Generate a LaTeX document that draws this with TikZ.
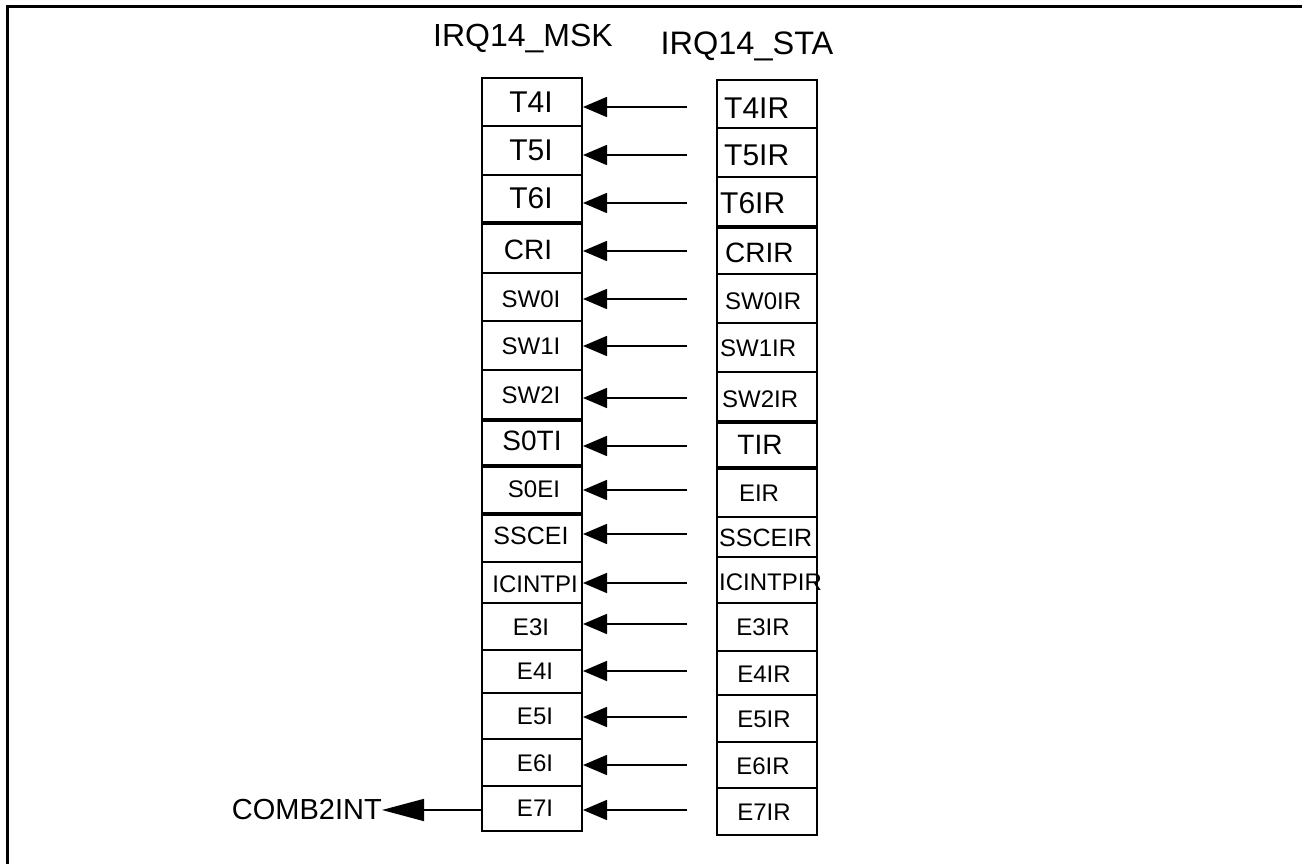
\documentclass[tikz,border=0pt]{standalone}
\usepackage{fontspec}
\setmainfont{Liberation Sans}
\usetikzlibrary{arrows.meta}
\newcommand\cellbox[4]{\node[cell,minimum height={(#4-#3)*1pt}] (#1) at ({#2+50},{(#3+#4)/2}) {};}
\begin{document}
\begin{tikzpicture}[x=1pt,y=-1pt,
  cell/.style={draw,line width=2pt,minimum width=100pt,inner sep=0pt},
  lbl/.style={inner sep=0pt},
  fA/.style={font=\fontsize{30}{32}\selectfont},
  fB/.style={font=\fontsize{28}{30}\selectfont},
  fC/.style={font=\fontsize{24}{26}\selectfont},
  fD/.style={font=\fontsize{25}{27}\selectfont},
  arr/.style={line width=1.6pt,-{Triangle[length=24pt,width=20pt]}},
  bigarr/.style={line width=1.6pt,-{Triangle[length=42pt,width=22pt]}},
  sepline/.style={line width=3.6pt}]
\useasboundingbox (0,0) rectangle (1302,864);
\draw[line width=3pt] (7,864) -- (7,7) -- (1302,7);

% titles
\node[lbl,anchor=base,font=\fontsize{32}{34}\selectfont] (msk) at (523,47) {IRQ14\_MSK};
\node[lbl,anchor=base,font=\fontsize{32.5}{34}\selectfont] (sta) at (747,55) {IRQ14\_STA};

% mask column
\cellbox{m1}{482}{78}{126}
\cellbox{m2}{482}{126}{175}
\cellbox{m3}{482}{175}{222}
\cellbox{m4}{482}{222}{273}
\cellbox{m5}{482}{273}{321}
\cellbox{m6}{482}{321}{370}
\cellbox{m7}{482}{370}{419}
\cellbox{m8}{482}{419}{465}
\cellbox{m9}{482}{465}{513}
\cellbox{m10}{482}{513}{562}
\cellbox{m11}{482}{562}{603}
\cellbox{m12}{482}{603}{650}
\cellbox{m13}{482}{650}{693}
\cellbox{m14}{482}{693}{739}
\cellbox{m15}{482}{739}{786}
\cellbox{m16}{482}{786}{831}

% status column
\cellbox{s1}{717}{80}{128}
\cellbox{s2}{717}{128}{177}
\cellbox{s3}{717}{177}{226}
\cellbox{s4}{717}{226}{274}
\cellbox{s5}{717}{274}{323}
\cellbox{s6}{717}{323}{372}
\cellbox{s7}{717}{372}{421}
\cellbox{s8}{717}{421}{467}
\cellbox{s9}{717}{467}{517}
\cellbox{s10}{717}{517}{557}
\cellbox{s11}{717}{557}{603}
\cellbox{s12}{717}{603}{651}
\cellbox{s13}{717}{651}{695}
\cellbox{s14}{717}{695}{742}
\cellbox{s15}{717}{742}{788}
\cellbox{s16}{717}{788}{835}

% heavier separators
\draw[sepline] (m3.south west) -- (m3.south east);
\draw[sepline] (m7.south west) -- (m7.south east);
\draw[sepline] (m8.south west) -- (m8.south east);
\draw[sepline] (m9.south west) -- (m9.south east);
\draw[sepline] (s3.south west) -- (s3.south east);
\draw[sepline] (s7.south west) -- (s7.south east);
\draw[sepline] (s8.south west) -- (s8.south east);

% mask labels
\node[lbl,fA] (lm1) at (531,102) {T4I};
\node[lbl,fA] (lm2) at (531,150) {T5I};
\node[lbl,fA] (lm3) at (531,198) {T6I};
\node[lbl,fB] (lm4) at (528,250) {CRI};
\node[lbl,fC] (lm5) at (531,299) {SW0I};
\node[lbl,fC] (lm6) at (531,346) {SW1I};
\node[lbl,fC] (lm7) at (531,395) {SW2I};
\node[lbl,fB] (lm8) at (532,441) {S0TI};
\node[lbl,fC] (lm9) at (534,489) {S0EI};
\node[lbl,fD] (lm10) at (531,536) {SSCEI};
\node[lbl,fC] (lm11) at (535,584) {ICINTPI};
\node[lbl,fC] (lm12) at (531,627) {E3I};
\node[lbl,fC] (lm13) at (535,671) {E4I};
\node[lbl,fC] (lm14) at (535,716) {E5I};
\node[lbl,fC] (lm15) at (535,763) {E6I};
\node[lbl,fC] (lm16) at (535,808) {E7I};

% status labels
\node[lbl,fA,anchor=west] (ls1) at (724,108) {T4IR};
\node[lbl,fA,anchor=west] (ls2) at (724,155) {T5IR};
\node[lbl,fA,anchor=west] (ls3) at (720,203) {T6IR};
\node[lbl,fB,anchor=west] (ls4) at (725,253) {CRIR};
\node[lbl,fC,anchor=west] (ls5) at (725,301) {SW0IR};
\node[lbl,fC,anchor=west] (ls6) at (720,348) {SW1IR};
\node[lbl,fC,anchor=west] (ls7) at (722,399) {SW2IR};
\node[lbl,fB] (ls8) at (760,445) {TIR};
\node[lbl,fC] (ls9) at (759,493) {EIR};
\node[lbl,fD,anchor=west] (ls10) at (719,538) {SSCEIR};
\node[lbl,fC,anchor=west] (ls11) at (719,582) {ICINTPIR};
\node[lbl,fC] (ls12) at (763,627) {E3IR};
\node[lbl,fC] (ls13) at (764,674) {E4IR};
\node[lbl,fC] (ls14) at (764,719) {E5IR};
\node[lbl,fC] (ls15) at (763,766) {E6IR};
\node[lbl,fC] (ls16) at (764,812) {E7IR};

% arrow starts
\coordinate (a1) at (687,107);
\coordinate (a2) at (687,155);
\coordinate (a3) at (687,203);
\coordinate (a4) at (687,251);
\coordinate (a5) at (687,299);
\coordinate (a6) at (687,346);
\coordinate (a7) at (687,398);
\coordinate (a8) at (687,446);
\coordinate (a9) at (687,490);
\coordinate (a10) at (687,534);
\coordinate (a11) at (687,583);
\coordinate (a12) at (687,624);
\coordinate (a13) at (687,671);
\coordinate (a14) at (687,717);
\coordinate (a15) at (687,765);
\coordinate (a16) at (687,810);
\foreach \i in {1,...,16} {
  \draw[arr] (a\i) -- (a\i -| m\i.east);
}

% output
\node[lbl,font=\fontsize{29}{31}\selectfont,anchor=east] (comb) at (382,810) {COMB2INT};
\draw[bigarr] (comb.east -| m16.west) -- (comb.east);
\end{tikzpicture}
\end{document}
